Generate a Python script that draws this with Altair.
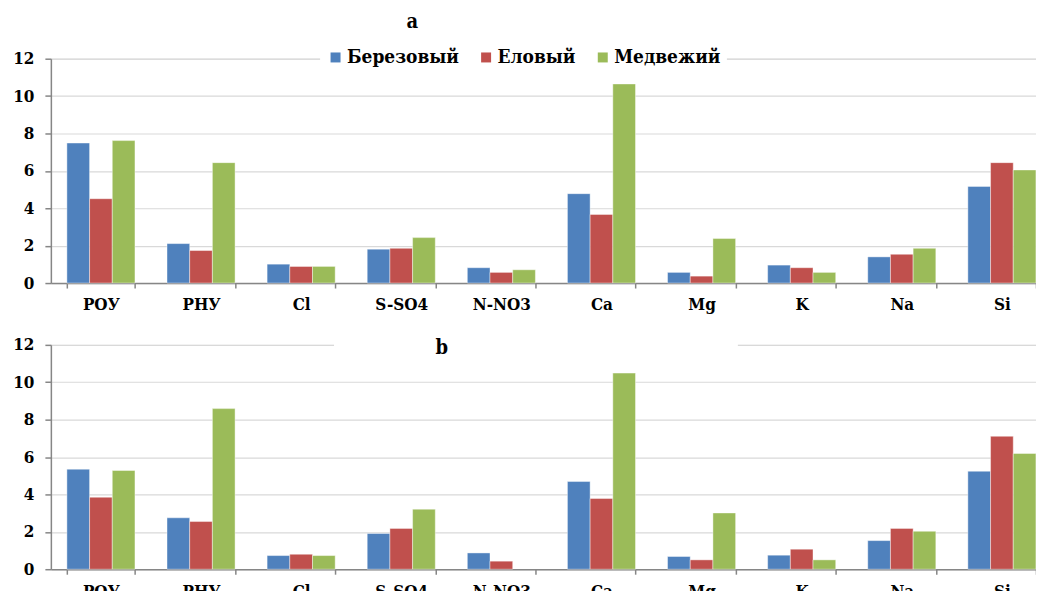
import altair as alt
import pandas as pd

categories = ["РОУ", "РНУ", "Cl", "S-SO4", "N-NO3", "Ca", "Mg", "K", "Na", "Si"]
series = ["Березовый", "Еловый", "Медвежий"]
colors = ["#4F81BD", "#C0504D", "#9BBB59"]
panel_labels = ["a", "b"]

a_birch = [7.49, 2.11, 1.01, 1.81, 0.82, 4.78, 0.57, 0.96, 1.40, 5.17]
a_spruce = [4.51, 1.74, 0.89, 1.86, 0.57, 3.67, 0.37, 0.82, 1.54, 6.44]
a_bear = [7.62, 6.44, 0.89, 2.43, 0.71, 10.65, 2.38, 0.57, 1.86, 6.05]

b_birch = [5.35, 2.75, 0.73, 1.91, 0.87, 4.69, 0.68, 0.75, 1.53, 5.24]
b_spruce = [3.85, 2.55, 0.80, 2.18, 0.43, 3.78, 0.50, 1.07, 2.18, 7.11]
b_bear = [5.28, 8.59, 0.73, 3.21, None, 10.49, 3.01, 0.50, 2.03, 6.19]

y_ticks = [0, 2, 4, 6, 8, 10, 12]

FONT = "DejaVu Serif Condensed, DejaVu Serif, serif"


def make_df(vals_list):
    rows = []
    for s, vals in zip(series, vals_list):
        for c, v in zip(categories, vals):
            if v is not None:
                rows.append({"cat": c, "series": s, "value": v})
    return pd.DataFrame(rows)


df_a = make_df([a_birch, a_spruce, a_bear])
df_b = make_df([b_birch, b_spruce, b_bear])

W, H = 1004, 225


def bars(df, show_legend):
    if show_legend:
        color = alt.Color(
            "series:N",
            sort=series,
            scale=alt.Scale(domain=series, range=colors),
            legend=alt.Legend(
                title=None,
                orient="none",
                direction="horizontal",
                legendX=270,
                legendY=-17,
                fillColor="white",
                padding=6,
                symbolType="square",
                symbolSize=100,
                symbolStrokeWidth=0,
                labelFont=FONT,
                labelFontSize=19,
                labelFontWeight="bold",
                labelColor="black",
                labelOffset=2,
                columnPadding=17,
            ),
        )
    else:
        color = alt.Color(
            "series:N",
            sort=series,
            scale=alt.Scale(domain=series, range=colors),
            legend=None,
        )
    return (
        alt.Chart(df)
        .mark_bar(stroke="white", strokeWidth=0.6, strokeOpacity=0.7)
        .encode(
            x=alt.X(
                "cat:N",
                sort=categories,
                title=None,
                scale=alt.Scale(paddingInner=0.32, paddingOuter=0.16),
                axis=alt.Axis(
                    tickBand="extent",
                    tickSize=5,
                    tickColor="#868686",
                    tickWidth=1.5,
                    domainColor="#868686",
                    domainWidth=1.5,
                    labelFont=FONT,
                    labelFontSize=17,
                    labelFontWeight="bold",
                    labelColor="black",
                    labelPadding=9,
                    labelAngle=0,
                    grid=False,
                ),
            ),
            xOffset=alt.XOffset(
                "series:N", sort=series, scale=alt.Scale(paddingInner=0, paddingOuter=0)
            ),
            y=alt.Y(
                "value:Q",
                title=None,
                scale=alt.Scale(domain=[0, 12], nice=False),
                axis=alt.Axis(
                    values=y_ticks,
                    format="d",
                    tickSize=6,
                    tickColor="#868686",
                    tickWidth=1.5,
                    domainColor="#868686",
                    domainWidth=1.5,
                    grid=True,
                    gridColor="#d9d9d9",
                    gridWidth=1.2,
                    labelFont=FONT,
                    labelFontSize=17,
                    labelFontWeight="bold",
                    labelColor="black",
                    labelPadding=11,
                ),
            ),
            color=color,
        )
    )


panel_a = bars(df_a, True).properties(
    width=W,
    height=H,
    title=alt.Title(
        panel_labels[0],
        anchor="start",
        dx=395,
        font=FONT,
        fontSize=20,
        fontWeight="bold",
        color="black",
        offset=10,
    ),
)

label_b = pd.DataFrame({"t": [panel_labels[1]]})
mask_b = (
    alt.Chart(label_b)
    .mark_rect(color="white")
    .encode(x=alt.value(284), x2=alt.value(689), y=alt.value(-3), y2=alt.value(3))
)
text_b = (
    alt.Chart(label_b)
    .mark_text(
        font=FONT, fontSize=20, fontWeight="bold", color="black",
        align="center", baseline="alphabetic",
    )
    .encode(x=alt.value(392), y=alt.value(9), text="t:N")
)
panel_b = alt.layer(bars(df_b, False), mask_b, text_b).properties(width=W, height=H)

chart = (
    alt.vconcat(panel_a, panel_b, spacing=21)
    .resolve_legend(color="independent")
    .properties(padding={"left": 4, "top": 2, "right": -17, "bottom": -10})
    .configure_view(stroke=None)
    .configure(background="white")
)

chart.save("out.html", embed_options={"renderer": "svg", "actions": False})
